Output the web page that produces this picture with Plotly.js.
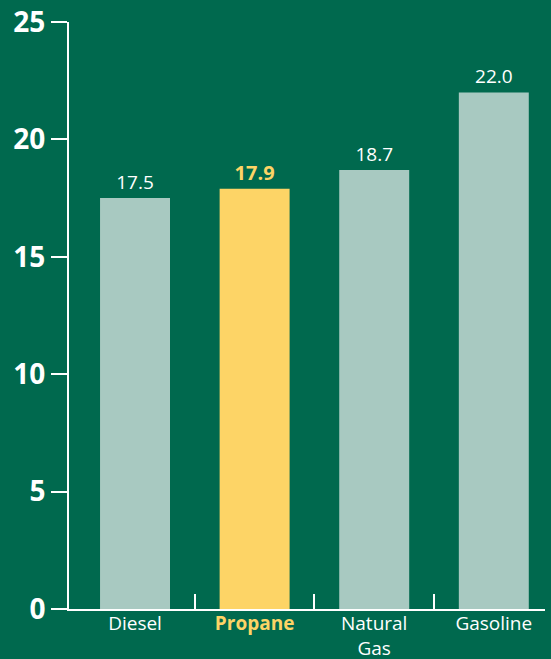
<!DOCTYPE html>
<html>
<head>
<meta charset="utf-8">
<script src="https://cdn.plot.ly/plotly-3.0.1.min.js"></script>
<style>html,body{margin:0;padding:0;background:#00694E;}#chart{width:551px;height:659px;}</style>
</head>
<body>
<div id="chart"></div>
<script>
const categories = ['Diesel', 'Propane', 'Natural Gas', 'Gasoline'];
const tickLabels = ['Diesel', '<b><span style="color:#FDD466">Propane</span></b>', 'Natural<br>Gas', 'Gasoline'];
const values = [17.5, 17.9, 18.7, 22.0];
const highlight = [false, true, false, false];
const yTicks = [0, 5, 10, 15, 20, 25];

const BG = '#00694E';
const BAR = '#A8C9C1';
const HL = '#FDD466';

const barColors = highlight.map(h => h ? HL : BAR);
const textColors = highlight.map(h => h ? HL : '#FFFFFF');
const textSizes = highlight.map(h => h ? 20 : 19);
const templates = highlight.map(h => h ? '<b>%{y:.1f}</b>' : '%{y:.1f}');
const boundaries = categories.slice(1).map((_, i) => i + 0.5);

const xRange = [-0.552, 3.428];

const traces = [
  {
    type: 'bar',
    x: categories,
    y: values,
    marker: {color: barColors, line: {width: 0}},
    texttemplate: templates,
    textposition: 'outside',
    cliponaxis: false,
    textfont: {family: 'Open Sans', size: textSizes, color: textColors},
    hoverinfo: 'none'
  },
  {
    type: 'scatter',
    x: [],
    y: [],
    xaxis: 'x2',
    yaxis: 'y',
    showlegend: false,
    hoverinfo: 'none'
  }
];

const layout = {
  width: 551,
  height: 659,
  margin: {l: 69, r: 6, t: 22, b: 50},
  paper_bgcolor: BG,
  plot_bgcolor: BG,
  showlegend: false,
  bargap: 0.415,
  xaxis: {
    type: 'category',
    range: xRange,
    tickvals: categories,
    ticktext: tickLabels,
    ticks: '',
    ticklabelstandoff: -4,
    showline: true,
    linecolor: '#FFFFFF',
    linewidth: 2,
    showgrid: false,
    zeroline: false,
    tickfont: {family: 'Open Sans', size: 19, color: '#FFFFFF'},
    fixedrange: true
  },
  xaxis2: {
    type: 'linear',
    overlaying: 'x',
    anchor: 'y',
    side: 'bottom',
    range: xRange,
    tickmode: 'array',
    tickvals: boundaries,
    ticks: 'inside',
    ticklen: 15,
    tickwidth: 2,
    tickcolor: '#FFFFFF',
    showticklabels: false,
    showline: false,
    showgrid: false,
    zeroline: false
  },
  yaxis: {
    range: [0, 25],
    tickmode: 'array',
    tickvals: yTicks,
    ticks: 'outside',
    ticklen: 16,
    tickwidth: 2,
    tickcolor: '#FFFFFF',
    showline: true,
    linecolor: '#FFFFFF',
    linewidth: 2,
    showgrid: false,
    zeroline: false,
    tickfont: {family: 'Open Sans', size: 28, color: '#FFFFFF', weight: 700},
    fixedrange: true
  }
};

Plotly.newPlot('chart', traces, layout, {displayModeBar: false, staticPlot: true});
</script>
</body>
</html>
